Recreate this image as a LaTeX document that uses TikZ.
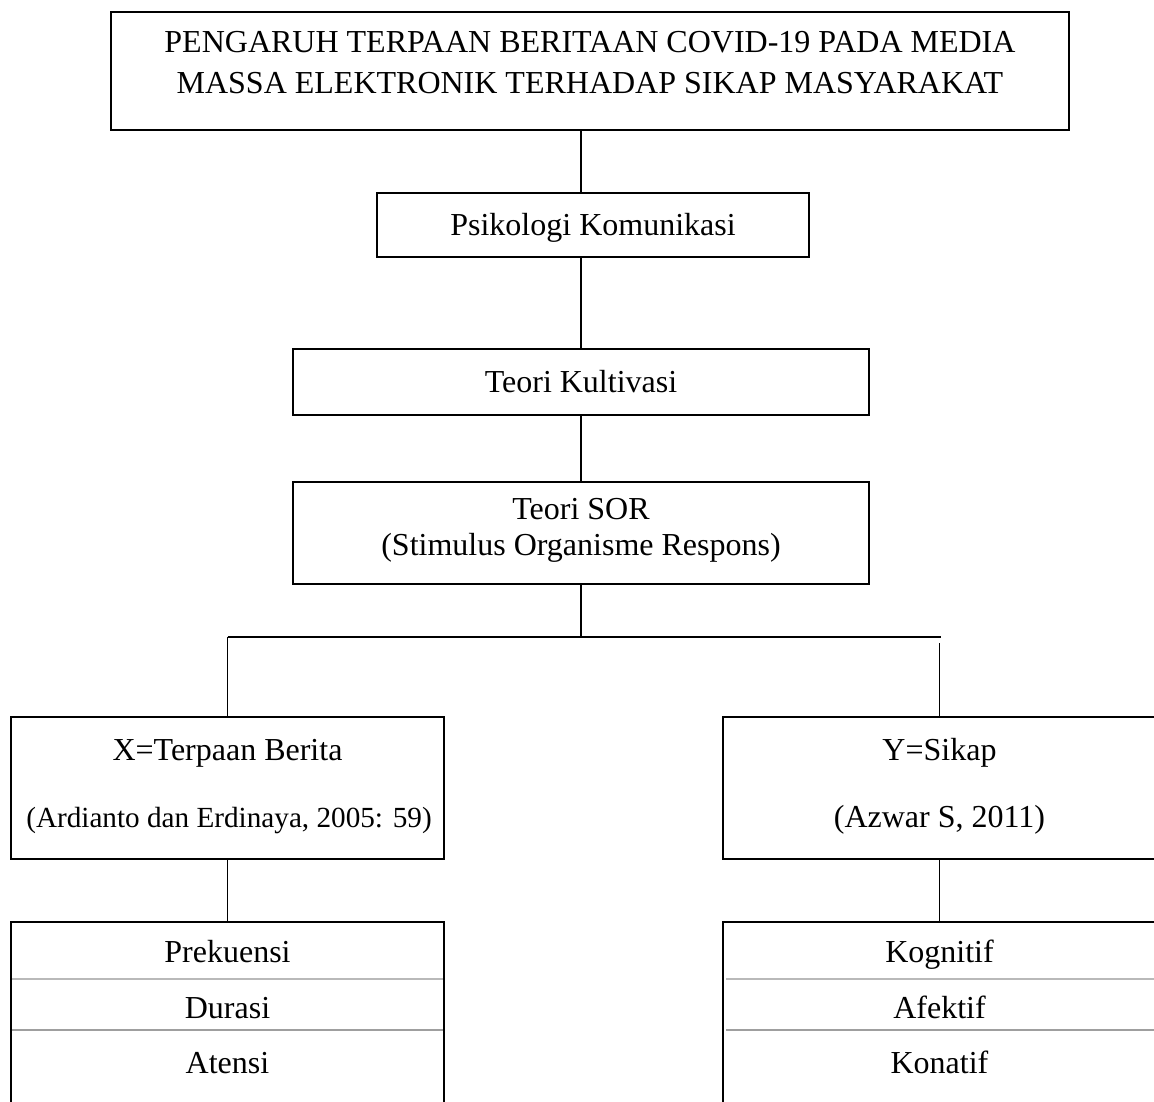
\documentclass[tikz,border=0pt]{standalone}
\usepackage{fontspec}
\setmainfont{Liberation Serif}
\usetikzlibrary{positioning}

\begin{document}
\begin{tikzpicture}[x=0.5pt,y=-0.5pt,
  kotak/.style={draw,line width=1pt,inner sep=0pt},
  teks/.style={font=\fontsize{16}{19}\selectfont,inner sep=0pt,text height=10.6pt,text depth=0pt},
  teksbaris/.style={align=center,inner sep=0pt},
  konektor/.style={line width=0.8pt},
  pisahA/.style={gray!55,line width=0.7pt},
  pisahB/.style={gray!75,line width=0.9pt}]

\useasboundingbox (0,0) rectangle (1154,1101);

% Judul
\node[kotak,minimum width=479pt,minimum height=59pt] (judul) at (590,71) {};
\node[teksbaris,font=\fontsize{16}{20.5}\selectfont] (judulteks) at (590,62.5)
  {PENGARUH TERPAAN BERITAAN COVID-19 PADA MEDIA\\MASSA ELEKTRONIK TERHADAP SIKAP MASYARAKAT};

% Teori
\node[kotak,teks,minimum width=216pt,minimum height=32pt] (psi) at (593,225) {Psikologi Komunikasi};
\node[kotak,teks,minimum width=288pt,minimum height=33pt] (kult) at (581,382) {Teori Kultivasi};
\node[kotak,minimum width=288pt,minimum height=51pt] (sor) at (581,533) {};
\node[teksbaris,font=\fontsize{16}{18}\selectfont] (sorteks) at (581,530)
  {Teori SOR\\(Stimulus Organisme Respons)};

% Variabel X dan Y
\node[kotak,minimum width=216.5pt,minimum height=71pt] (xbox) at (227.5,788) {};
\node[teks] (xnama) at (227.5,750) {X=Terpaan Berita};
\node[teks,font=\fontsize{14.6}{17}\selectfont] (xsumber) at (229,817) {(Ardianto dan Erdinaya, 2005: 59)};
\node[kotak,minimum width=216.5pt,minimum height=71pt] (ybox) at (939.5,788) {};
\node[teks] (ynama) at (939.5,750) {Y=Sikap};
\node[teks] (ysumber) at (939.5,817) {(Azwar S, 2011)};

% Indikator
\node[kotak,minimum width=216.5pt,minimum height=95pt] (xlist) at (227.5,1017) {};
\node[teks] (x1) at (227.5,952) {Prekuensi};
\node[teks] (x2) at (227.5,1008) {Durasi};
\node[teks] (x3) at (227.5,1063) {Atensi};
\draw[pisahA] (12,979) -- (443,979);
\draw[pisahB] (12,1030) -- (443,1030);

\node[kotak,minimum width=216.5pt,minimum height=95pt] (ylist) at (939.5,1017) {};
\node[teks] (y1) at (939.5,952) {Kognitif};
\node[teks] (y2) at (939.5,1008) {Afektif};
\node[teks] (y3) at (939.5,1063) {Konatif};
\draw[pisahA] (726,979) -- (1154,979);
\draw[pisahB] (726,1030) -- (1154,1030);

% Garis penghubung
\coordinate (cabang) at (581,637);
\coordinate (cabangR) at (941,637);
\coordinate (turunR) at (939.5,643);
\draw[konektor] (judul.south -| kult.north) -- (psi.north -| kult.north);
\draw[konektor] (psi.south -| kult.north) -- (kult.north);
\draw[konektor] (kult.south) -- (sor.north);
\draw[konektor] (sor.south) -- (cabang);
\draw[line width=1pt] (xbox.north |- cabang) -- (cabangR);
\draw[konektor] (xbox.north |- cabang) -- (xbox.north);
\draw[konektor] (turunR) -- (ybox.north);
\draw[konektor] (xbox.south) -- (xlist.north);
\draw[konektor] (ybox.south) -- (ylist.north);

\end{tikzpicture}
\end{document}
